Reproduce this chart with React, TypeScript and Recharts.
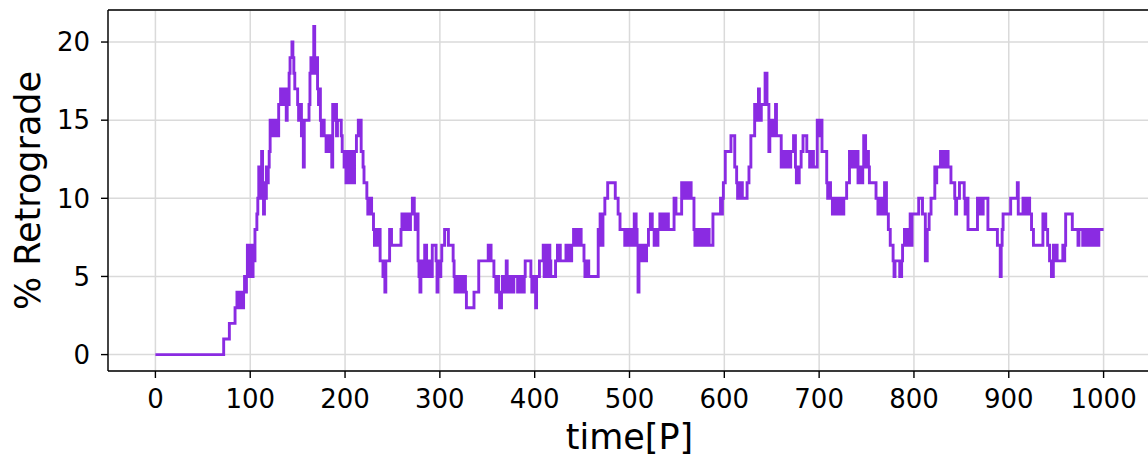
import React from 'react';
import { LineChart, Line, XAxis, YAxis, CartesianGrid, ReferenceLine, Label } from 'recharts';

const times = [
  0, 72, 78, 84, 86, 87, 89, 91, 93, 94, 95, 96, 97, 98, 99, 100, 101, 102, 103, 104, 105, 107, 108, 109, 110, 111, 112, 113, 114, 115, 116, 117, 118, 119, 120, 121, 122, 124, 125, 127, 128, 130, 132, 134, 136, 138, 139, 141, 142, 144, 145, 146, 147, 150, 151, 153, 154, 156, 157, 162, 163, 164, 166, 167, 168, 169, 170, 171, 172, 173, 174, 175, 177, 178, 180, 181, 183, 184, 186, 187, 189, 190, 191, 192, 196, 197, 199,
  200, 201, 202, 203, 204, 205, 206, 207, 210, 212, 214, 217, 219, 220, 223, 224, 225, 226, 227, 228, 230, 231, 232, 234, 235, 237, 240, 242, 243, 247, 249, 259, 260, 261, 263, 264, 266, 267, 269, 271, 273, 274, 276, 277, 278, 279, 280, 281, 282, 283, 284, 286, 288, 289, 290, 291, 292, 296, 297, 298,
  300, 301, 302, 305, 309, 314, 315, 316, 317, 318, 319, 320, 321, 324, 326, 327, 328, 336, 341, 351, 354, 357, 359, 360, 362, 363, 365, 366, 367, 368, 370, 371, 372, 373, 375, 376, 378, 382, 383, 385, 386, 388, 389, 390, 396, 397, 398, 399,
  401, 402, 405, 409, 410, 411, 412, 413, 414, 415, 416, 417, 422, 424, 427, 433, 435, 436, 438, 439, 441, 443, 444, 446, 447, 449, 452, 453, 454, 455, 456, 457, 467, 468, 469, 471, 472, 474, 477, 485, 488, 490, 495, 496, 497, 499,
  500, 501, 502, 503, 504, 505, 507, 508, 509, 510, 512, 513, 515, 516, 518, 520, 522, 524, 526, 527, 529, 530, 532, 533, 535, 537, 539, 541, 547, 549, 555, 557, 559, 561, 563, 565, 568, 569, 571, 572, 574, 575, 577, 578, 580, 581, 583, 584, 588, 596, 597, 598, 599,
  601, 607, 611, 613, 614, 615, 617, 618, 619, 624, 626, 628, 632, 633, 636, 637, 638, 639, 643, 645, 647, 648, 649, 650, 652, 654, 655, 660, 663, 665, 667, 669, 670, 673, 675, 676, 679, 681, 683, 687, 690, 691, 692, 693, 694, 698,
  700, 701, 703, 708, 709, 711, 712, 714, 716, 717, 719, 720, 722, 723, 726, 729, 732, 734, 736, 738, 739, 741, 743, 744, 746, 747, 749, 750, 752, 753, 760, 762, 764, 765, 768, 769, 771, 773, 775, 778, 779, 780, 785, 787, 788, 790, 791, 793, 795, 796, 797, 798,
  805, 809, 812, 814, 816, 818, 822, 823, 824, 828, 830, 831, 833, 834, 836, 839, 843, 844, 845, 848, 853, 854, 855, 857, 867, 869, 870, 872, 873, 878, 888, 891, 892, 893, 894,
  902, 909, 910, 915, 918, 919, 920, 921, 922, 924, 926, 936, 939, 941, 943, 945, 947, 948, 950, 951, 957, 958, 959, 960, 967, 973, 974, 978, 979, 982, 983, 986, 987, 990, 991, 994, 995, 1000,
];

const values = [
  0, 1, 2, 3, 4, 3, 4, 3, 4, 5, 4, 5, 7, 6, 5, 7, 6, 5, 7, 6, 8, 9, 10, 12, 10, 11, 13, 11, 9, 11, 10, 12, 11, 12, 13, 15, 14, 15, 14, 15, 14, 16, 17, 16, 17, 15, 16, 18, 19, 20, 19, 18, 17, 16, 15, 16, 14, 12, 15, 16, 18, 19, 18, 21, 19, 18, 19, 17, 16, 17, 15, 14, 15, 14, 13, 14, 13, 14, 12, 16, 15, 16, 14, 15, 14, 13, 12,
  13, 11, 13, 11, 12, 11, 13, 11, 13, 14, 15, 13, 12, 11, 10, 9, 10, 9, 10, 9, 8, 7, 8, 7, 8, 6, 5, 4, 6, 8, 7, 8, 9, 8, 9, 8, 9, 8, 9, 10, 9, 8, 9, 6, 5, 4, 6, 5, 6, 5, 7, 5, 6, 5, 6, 5, 7, 6, 4, 6,
  5, 6, 7, 8, 7, 6, 5, 4, 5, 4, 5, 4, 5, 4, 5, 4, 3, 4, 6, 7, 6, 5, 4, 5, 4, 3, 4, 5, 4, 5, 6, 4, 5, 4, 5, 4, 5, 4, 5, 4, 5, 4, 5, 6, 5, 4, 5, 4,
  3, 5, 6, 7, 5, 7, 6, 7, 5, 7, 6, 5, 6, 7, 6, 7, 6, 7, 6, 7, 8, 7, 8, 7, 8, 7, 6, 5, 6, 5, 6, 5, 8, 7, 9, 7, 9, 10, 11, 10, 9, 8, 7, 8, 7, 8,
  7, 8, 7, 8, 7, 9, 8, 7, 4, 6, 7, 6, 7, 6, 7, 8, 9, 8, 7, 8, 7, 8, 9, 8, 9, 8, 9, 8, 10, 9, 11, 10, 11, 10, 11, 10, 8, 7, 8, 7, 8, 7, 8, 7, 8, 7, 8, 7, 9, 10, 9, 10, 11,
  13, 14, 12, 11, 10, 11, 10, 11, 10, 11, 12, 14, 16, 15, 17, 16, 15, 16, 18, 16, 13, 14, 15, 14, 15, 16, 14, 12, 13, 12, 13, 12, 13, 14, 12, 11, 12, 13, 14, 13, 12, 13, 12, 13, 12, 15,
  14, 15, 13, 11, 10, 11, 10, 9, 10, 9, 10, 9, 10, 9, 10, 11, 13, 12, 13, 12, 13, 11, 12, 11, 12, 14, 12, 13, 12, 11, 10, 9, 10, 9, 10, 11, 9, 8, 7, 6, 5, 6, 5, 6, 7, 8, 7, 8, 7, 9, 7, 9,
  10, 9, 6, 8, 9, 10, 12, 11, 12, 13, 12, 13, 12, 13, 12, 11, 10, 9, 10, 11, 10, 9, 10, 8, 10, 9, 10, 9, 10, 8, 7, 5, 7, 8, 9,
  10, 11, 9, 10, 9, 10, 9, 10, 9, 8, 7, 9, 8, 7, 6, 5, 7, 6, 7, 6, 7, 6, 7, 9, 8, 7, 8, 7, 8, 7, 8, 7, 8, 7, 8, 7, 8, 8,
];

const xTicks = [0, 100, 200, 300, 400, 500, 600, 700, 800, 900, 1000];
const yTicks = [0, 5, 10, 15, 20];

const data = times.map((t, i) => ({ t, v: values[i] }));

const FONT = 'DejaVu Sans, sans-serif';

const XTitle = (props: any) => {
  const vb = props.viewBox || {};
  return (
    <text x={vb.x + vb.width / 2} y={vb.y + 78} textAnchor="middle" fontFamily={FONT} fontSize={35} fill="#000">
      time[P]
    </text>
  );
};

const YTitle = (props: any) => {
  const vb = props.viewBox || {};
  const cy = vb.y + vb.height / 2;
  const x = 40;
  return (
    <text x={x} y={cy} transform={`rotate(-90 ${x} ${cy})`} textAnchor="middle" fontFamily={FONT} fontSize={35} fill="#000">
      % Retrograde
    </text>
  );
};

export default function App() {
  return (
    <div style={{ position: 'absolute', left: 0, top: 0, width: 1148, height: 460, overflow: 'hidden', background: '#fff' }}>
      <LineChart width={1170} height={460} data={data} margin={{ top: 10, right: 19, bottom: 0, left: 0 }}>
        <CartesianGrid stroke="#dadada" strokeWidth={1.5} />
        <XAxis
          dataKey="t"
          type="number"
          domain={[-50, 1050]}
          ticks={xTicks}
          height={89}
          tickSize={7}
          tickMargin={12}
          stroke="#000"
          strokeWidth={1.4}
          tick={{ fontFamily: FONT, fontSize: 26, fill: '#000' }}
          tickLine={{ stroke: '#000', strokeWidth: 1.4 }}
          allowDataOverflow
        >
          <Label content={<XTitle />} />
        </XAxis>
        <YAxis
          type="number"
          domain={[-1.05, 22.05]}
          ticks={yTicks}
          width={108}
          tickSize={7}
          tickMargin={11}
          stroke="#000"
          strokeWidth={1.4}
          tick={{ fontFamily: FONT, fontSize: 26, fill: '#000' }}
          tickLine={{ stroke: '#000', strokeWidth: 1.4 }}
          allowDataOverflow
        >
          <Label content={<YTitle />} />
        </YAxis>
        <ReferenceLine y={22.05} stroke="#000" strokeWidth={1.4} ifOverflow="visible" />
        <ReferenceLine x={1050} stroke="#000" strokeWidth={1.4} ifOverflow="visible" />
        <Line
          type="stepAfter"
          dataKey="v"
          stroke="#8a2be2"
          strokeWidth={2.9}
          dot={false}
          isAnimationActive={false}
        />
      </LineChart>
    </div>
  );
}
